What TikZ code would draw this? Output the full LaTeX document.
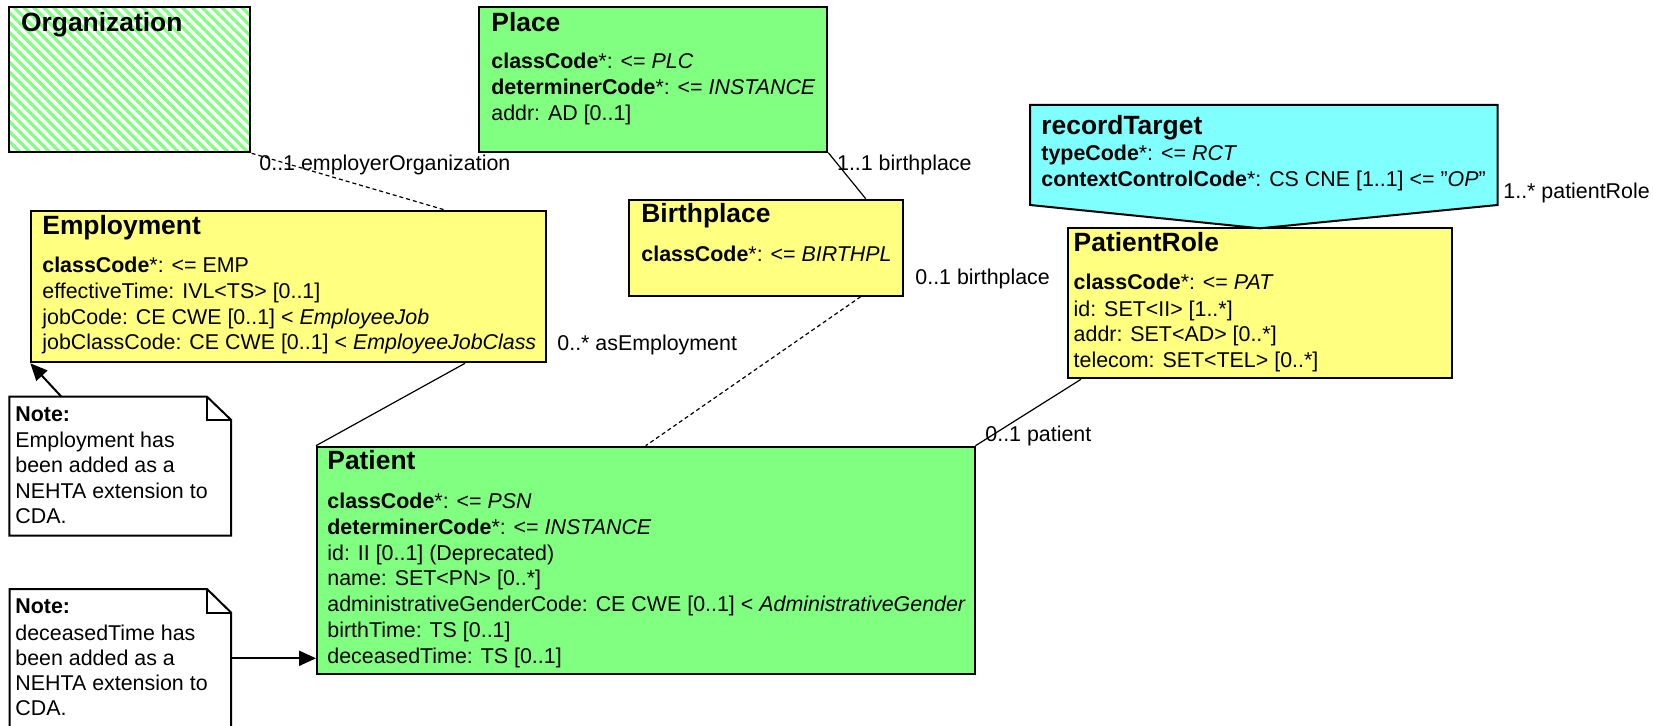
\documentclass[tikz,border=0pt]{standalone}
\usepackage{fontspec}
\setmainfont{Liberation Sans}
\usetikzlibrary{arrows.meta,patterns.meta,fit,calc}
\definecolor{pgreen}{RGB}{128,255,128}
\definecolor{pyellow}{RGB}{255,255,128}
\definecolor{pcyan}{RGB}{128,255,255}
\newcommand\mybodyf{\fontsize{10.7}{12.8}\selectfont}
\newcommand\myttlf{\fontsize{13.2}{15}\selectfont\bfseries}
\newcommand\myquot{\char34\relax}
\tikzset{
  box/.style={draw=black, line width=1pt, inner sep=0pt},
  ttl/.style={anchor=base west, inner sep=0pt, font=\myttlf},
  txt/.style={anchor=base west, inner sep=0pt, font=\mybodyf},
  conn/.style={draw=black, line width=0.6pt},
  dconn/.style={conn, dash pattern=on 2pt off 1.5pt},
  arr/.style={draw=black, line width=1pt, -{Triangle[length=8.5pt,width=7.5pt]}},
  notebox/.style={draw=black, line width=1pt, fill=white},
}
\begin{document}
\begin{tikzpicture}[x=0.5pt,y=-0.5pt]
\useasboundingbox (0,0) rectangle (1653,726);
\clip (0,0) rectangle (1653,726);
\fill[white] (0,0) rectangle (1653,726);

% boxes
\node[box, fill=white, fit={(9.3,7.3) (250,151.7)}] (orgbg) {};
\node[box, pattern={Lines[angle=-45,distance=3.5pt,line width=1.6pt]}, pattern color=pgreen, fit={(9.3,7.3) (250,151.7)}] (org) {};
\node[box, fill=pgreen, fit={(478.6,7.3) (827.3,151.7)}] (place) {};
\node[box, fill=pyellow, fit={(629.3,199.7) (903.3,295.7)}] (birth) {};
\node[box, fill=pyellow, fit={(31.4,210.7) (545.7,362.3)}] (emp) {};
\node[box, fill=pyellow, fit={(1067.6,228.3) (1452,378.3)}] (prole) {};
\node[box, fill=pgreen, fit={(317,446.7) (974.5,674.3)}] (patient) {};
\draw[box, fill=pcyan] (1030,105) -- (1497.6,105) -- (1497.6,205) -- (1260,228.3) -- (1030,205) -- cycle;

% notes
\draw[notebox] (9.4,396.7) -- (207,396.7) -- (231.2,420) -- (231.2,535.7) -- (9.4,535.7) -- cycle;
\draw[line width=1pt] (207,396.7) -- (207,420) -- (231.2,420);
\draw[notebox] (9.6,589) -- (207,589) -- (231.2,612.7) -- (231.2,745) -- (9.6,745) -- cycle;
\draw[line width=1pt] (207,589) -- (207,612.7) -- (231.2,612.7);
\coordinate (n1top) at (61.4,396.7);
\coordinate (n2right) at (231.2,658.3);

% connectors
\draw[dconn] (org.south east) -- ($(emp.north west)+(413.6,0)$);
\draw[conn] (place.south east) -- ($(birth.north west)+(237.4,0)$);
\draw[dconn] ($(birth.south west)+(232.4,0)$) -- ($(patient.north west)+(329.7,0)$);
\draw[conn] ($(emp.south west)+(434.6,0)$) -- (patient.north west);
\draw[conn] ($(prole.south west)+(14.4,0)$) -- (patient.north east);
\draw[arr] (n1top) -- (emp.south west);
\draw[arr] (n2right) -- (n2right -| patient.west);

% Organization
\node[ttl] (orgt) at (20.7,31.7) {Organization};
% Place
\node[ttl] (placet) at (491,31.7) {Place};
\node[txt] (place1) at (491,69) {\textbf{classCode}*: <= \textit{PLC}};
\node[txt] (place2) at (491,95) {\textbf{determinerCode}*: <= \textit{INSTANCE}};
\node[txt] (place3) at (491,121) {addr: AD [0..1]};
% Birthplace
\node[ttl] (birtht) at (641,222.7) {Birthplace};
\node[txt] (birth1) at (641,261.7) {\textbf{classCode}*: <= \textit{BIRTHPL}};
% Employment
\node[ttl] (empt) at (42,234.3) {Employment};
\node[txt] (emp1) at (42,272.3) {\textbf{classCode}*: <= EMP};
\node[txt] (emp2) at (42,298.7) {effectiveTime: IVL<TS> [0..1]};
\node[txt] (emp3) at (42,324.3) {jobCode: CE CWE [0..1] < \textit{EmployeeJob}};
\node[txt] (emp4) at (42,350) {jobClassCode: CE CWE [0..1] < \textit{EmployeeJobClass}};
% recordTarget
\node[ttl] (rtt) at (1041,134.3) {recordTarget};
\node[txt] (rt1) at (1041,160.7) {\textbf{typeCode}*: <= \textit{RCT}};
\node[txt] (rt2) at (1041,186.7) {\textbf{contextControlCode}*: CS CNE [1..1] <= \myquot\textit{OP}\myquot};
% PatientRole
\node[ttl] (prolet) at (1073.3,251.7) {PatientRole};
\node[txt] (prole1) at (1073.3,290) {\textbf{classCode}*: <= \textit{PAT}};
\node[txt] (prole2) at (1073.3,316.7) {id: SET<II> [1..*]};
\node[txt] (prole3) at (1073.3,341.7) {addr: SET<AD> [0..*]};
\node[txt] (prole4) at (1073.3,367.3) {telecom: SET<TEL> [0..*]};
% Patient
\node[ttl] (patt) at (327,470) {Patient};
\node[txt] (pat1) at (327,508.3) {\textbf{classCode}*: <= \textit{PSN}};
\node[txt] (pat2) at (327,534.3) {\textbf{determinerCode}*: <= \textit{INSTANCE}};
\node[txt] (pat3) at (327,560) {id: II [0..1] (Deprecated)};
\node[txt] (pat4) at (327,585.7) {name: SET<PN> [0..*]};
\node[txt] (pat5) at (327,611.7) {administrativeGenderCode: CE CWE [0..1] < \textit{AdministrativeGender}};
\node[txt] (pat6) at (327,637.3) {birthTime: TS [0..1]};
\node[txt] (pat7) at (327,663.3) {deceasedTime: TS [0..1]};
% Notes
\node[txt] (n1a) at (15,421.7) {\textbf{Note:}};
\node[txt] (n1b) at (15,447.3) {Employment has};
\node[txt] (n1c) at (15,472.8) {been added as a};
\node[txt] (n1d) at (15,498.3) {NEHTA extension to};
\node[txt] (n1e) at (15,523.8) {CDA.};
\node[txt] (n2a) at (15,613.3) {\textbf{Note:}};
\node[txt] (n2b) at (15,640) {deceasedTime has};
\node[txt] (n2c) at (15,665) {been added as a};
\node[txt] (n2d) at (15,690.7) {NEHTA extension to};
\node[txt] (n2e) at (15,715.7) {CDA.};
% labels
\node[txt] (l1) at (259,170.7) {0..1 employerOrganization};
\node[txt] (l2) at (836.7,170.7) {1..1 birthplace};
\node[txt] (l3) at (915,285) {0..1 birthplace};
\node[txt] (l4) at (1503,198.3) {1..* patientRole};
\node[txt] (l5) at (557,350.7) {0..* asEmployment};
\node[txt] (l6) at (985,441.7) {0..1 patient};
\end{tikzpicture}
\end{document}
